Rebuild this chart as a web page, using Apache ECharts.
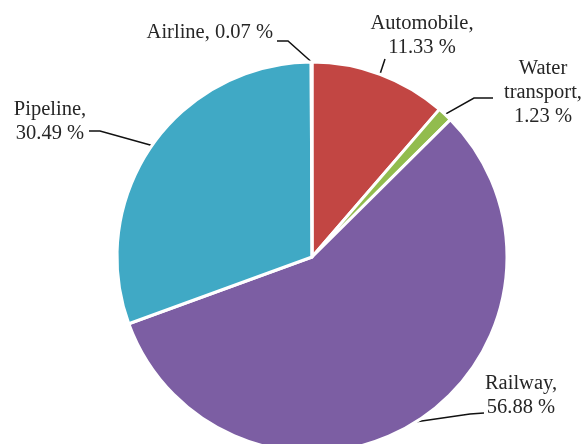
<!DOCTYPE html>
<html><head><meta charset="utf-8">
<script src="https://cdn.jsdelivr.net/npm/echarts@6/dist/echarts.min.js"></script>
<style>html,body{margin:0;padding:0;background:#fff}#c{width:584px;height:444px}</style>
</head><body><div id="c"></div>
<script>
// Data
const categories = ['Automobile', 'Water transport', 'Railway', 'Pipeline', 'Airline'];
const shares = [11.33, 1.23, 56.88, 30.49, 0.07];
const labelNames = ['Automobile,', 'Water\ntransport,', 'Railway,', 'Pipeline,', 'Airline,'];

// Styles
const colors = ['#c24643', '#92bc4e', '#7c5ea3', '#40a9c5', '#e8873a'];
const labelStyle = [
  { x: 422, y: 36, align: 'center', line: [[385, 59], [385, 59]], sep: '\n' },
  { x: 543, y: 93, align: 'center', line: [[474, 98], [493, 98]], sep: '\n' },
  { x: 521, y: 396, align: 'center', line: [[470, 414], [484, 413]], sep: '\n' },
  { x: 50, y: 121.5, align: 'center', line: [[100, 131], [89, 131]], sep: '\n' },
  { x: 273, y: 33, align: 'right', line: [[288, 41], [277, 41]], sep: ' ' }
];

const chart = echarts.init(document.getElementById('c'), null, { renderer: 'canvas' });
chart.setOption({
  animation: false,
  backgroundColor: '#fff',
  series: [{
    type: 'pie',
    center: [312, 257],
    radius: 195,
    startAngle: 90,
    clockwise: true,
    avoidLabelOverlap: false,
    data: categories.map((c, i) => ({
      name: c, value: shares[i],
      itemStyle: { color: colors[i] }
    })),
    itemStyle: { borderColor: '#fff', borderWidth: 3 },
    label: {
      show: true,
      fontFamily: 'Liberation Serif',
      fontSize: 20.5,
      lineHeight: 24,
      color: '#262626',
      formatter: p => labelNames[p.dataIndex] + labelStyle[p.dataIndex].sep + shares[p.dataIndex].toFixed(2) + ' %'
    },
    labelLine: { show: true, lineStyle: { color: '#111', width: 1.5 } },
    labelLayout: function (params) {
      const s = labelStyle[params.dataIndex];
      const start = params.labelLinePoints ? params.labelLinePoints[0] : s.line[0];
      return {
        x: s.x, y: s.y, align: s.align, verticalAlign: 'middle',
        labelLinePoints: [start, s.line[0], s.line[1]]
      };
    },
    emphasis: { disabled: true }
  }]
});
</script>
</body></html>
